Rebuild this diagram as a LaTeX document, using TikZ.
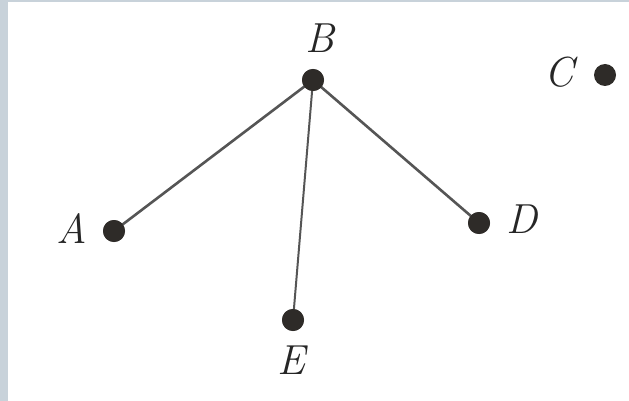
\documentclass[tikz,border=0pt]{standalone}
\begin{document}
\begin{tikzpicture}[x=1pt,y=-1pt,
  dot/.style={circle,fill=dotc,inner sep=0pt,minimum size=22pt},
  lbl/.style={inner sep=0pt,font=\fontsize{42}{48}\selectfont\itshape,text=black!85},
  edge/.style={draw=linec,line width=2.6pt}]
\definecolor{bandc}{HTML}{C8D2DA}
\definecolor{dotc}{HTML}{2E2B28}
\definecolor{linec}{HTML}{555555}
\useasboundingbox (0,0) rectangle (629,401);
\fill[white] (0,0) rectangle (629,401);
\fill[bandc] (0,0) rectangle (8,401);
\fill[bandc] (0,0) rectangle (629,2.5);
\node[dot] (B) at (313,80) {};
\node[dot] (A) at (114,231) {};
\node[dot] (D) at (479,223) {};
\node[dot] (E) at (293,320) {};
\node[dot] (C) at (605,75) {};
\draw[edge] (B.center) -- (A.center);
\draw[edge] (B.center) -- (D.center);
\draw[edge,line width=2pt] (B.center) -- (E.center);
\node[dot] at (B) {};
\node[dot] at (A) {};
\node[dot] at (D) {};
\node[dot] at (E) {};
\node[lbl] (lB) at (320,38) {B};
\node[lbl] (lA) at (72,229) {A};
\node[lbl] (lD) at (522,219) {D};
\node[lbl] (lC) at (559,72) {C};
\node[lbl] (lE) at (291,360) {E};
\end{tikzpicture}
\end{document}
